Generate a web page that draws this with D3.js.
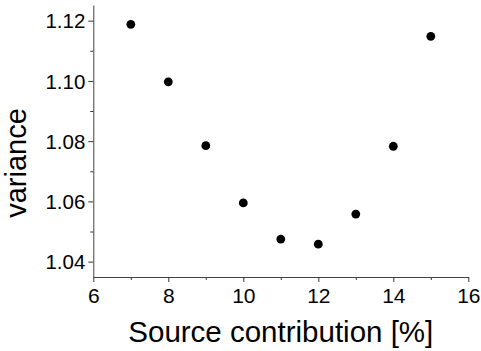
<!DOCTYPE html>
<html>
<head>
<meta charset="utf-8">
<script src="https://d3js.org/d3.v7.min.js"></script>
<style>
  body { margin: 0; background: #fff; }
  text { font-family: "Liberation Sans", Arial, sans-serif; fill: #000; }
</style>
</head>
<body>
<svg width="481" height="351"></svg>
<script>
// source contribution (%) and measured variance
var contribution = [7, 8, 9, 10, 11, 12, 13, 14, 15];
var variance = [1.1188, 1.0997, 1.0785, 1.0595, 1.0475, 1.0458, 1.0558, 1.0783, 1.1148];

var xTicks = [6, 8, 10, 12, 14, 16];
var xMinor = [7, 9, 11, 13, 15];
var yTicks = [1.04, 1.06, 1.08, 1.10, 1.12];
var yMinor = [1.05, 1.07, 1.09, 1.11];

var svg = d3.select("svg"),
    margin = {top: 5, right: 12.7, bottom: 74, left: 93.3},
    width = +svg.attr("width") - margin.left - margin.right,
    height = +svg.attr("height") - margin.top - margin.bottom;

var g = svg.append("g")
    .attr("transform", "translate(" + margin.left + "," + margin.top + ")");

var x = d3.scaleLinear().domain([6, 16]).range([0, width]);
var y = d3.scaleLinear().domain([1.0349, 1.1252]).range([height, 0]);

// minor ticks first, then major axis on top
g.append("g")
    .attr("transform", "translate(0," + height + ")")
    .call(d3.axisBottom(x).tickValues(xMinor).tickSize(3).tickFormat(""))
    .call(function(a) { a.select(".domain").remove(); });

g.append("g")
    .call(d3.axisLeft(y).tickValues(yMinor).tickSize(3).tickFormat(""))
    .call(function(a) { a.select(".domain").remove(); });

var xAxis = g.append("g")
    .attr("transform", "translate(0," + height + ")")
    .call(d3.axisBottom(x).tickValues(xTicks).tickSize(5).tickSizeOuter(0).tickPadding(6).tickFormat(d3.format("d")));

var yAxis = g.append("g")
    .call(d3.axisLeft(y).tickValues(yTicks).tickSize(5).tickSizeOuter(0).tickPadding(3).tickFormat(d3.format(".2f")));

xAxis.selectAll("text").style("font-size", "21px").attr("dy", "0.72em");
yAxis.selectAll("text").style("font-size", "20.5px").attr("dy", "0.35em");
g.selectAll(".domain").attr("stroke", "#444");
g.selectAll(".tick line").attr("stroke", "#333");

g.selectAll("circle.pt")
    .data(contribution)
  .enter().append("circle")
    .attr("class", "pt")
    .attr("cx", function(d) { return x(d); })
    .attr("cy", function(d, i) { return y(variance[i]); })
    .attr("r", 4.4)
    .attr("fill", "#000");

svg.append("text")
    .attr("x", margin.left + width / 2)
    .attr("y", 342)
    .attr("text-anchor", "middle")
    .style("font-size", "29.5px")
    .text("Source contribution [%]");

svg.append("text")
    .attr("transform", "translate(26," + 163 + ") rotate(-90)")
    .attr("text-anchor", "middle")
    .style("font-size", "29px")
    .text("variance");
</script>
</body>
</html>
